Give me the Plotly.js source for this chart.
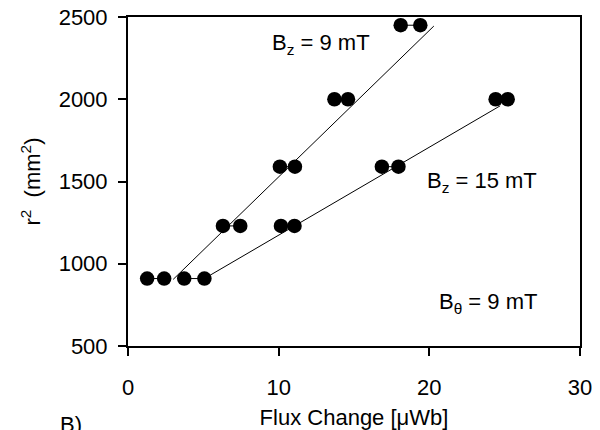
<!DOCTYPE html>
<html><head><meta charset="utf-8">
<script src="https://cdn.plot.ly/plotly-3.0.1.min.js"></script>
<style>html,body{margin:0;padding:0;background:#fff}</style>
</head><body><div id="chart" style="width:600px;height:430px"></div>
<script>
// Bz = 9 mT series
const bz9X = [1.27, 2.4, 6.3, 7.45, 10.08, 11.08, 13.7, 14.6, 18.1, 19.4];
const bz9Y = [910, 910, 1230, 1230, 1590, 1590, 2000, 2000, 2450, 2450];
// Bz = 15 mT series
const bz15X = [3.73, 5.07, 10.15, 11.05, 16.85, 17.95, 24.4, 25.2];
const bz15Y = [910, 910, 1230, 1230, 1590, 1590, 2000, 2000];
// fitted lines (endpoints)
const fit9X = [3.0, 20.3];
const fit9Y = [905, 2445];
const fit15X = [5.07, 24.7];
const fit15Y = [910, 1960];
const xTicks = [0, 10, 20, 30];
const yTicks = [500, 1000, 1500, 2000, 2500];

// horizontal connectors between the points of each pair
function pairs(xs, ys) {
  const px = [], py = [];
  for (let i = 0; i + 1 < xs.length; i += 2) {
    px.push(xs[i], xs[i + 1], null);
    py.push(ys[i], ys[i + 1], null);
  }
  return [px, py];
}
const p9 = pairs(bz9X, bz9Y), p15 = pairs(bz15X, bz15Y);
const FAM = 'Liberation Sans, Arial, Helvetica, sans-serif';
function f(size) { return {family: FAM, size: size, color: '#000000'}; }

const traces = [
  {x: p9[0], y: p9[1], mode: 'lines', line: {color: '#000', width: 1}},
  {x: p15[0], y: p15[1], mode: 'lines', line: {color: '#000', width: 1}},
  {x: fit9X, y: fit9Y, mode: 'lines', line: {color: '#000', width: 1}},
  {x: fit15X, y: fit15Y, mode: 'lines', line: {color: '#000', width: 1}},
  {x: bz9X, y: bz9Y, mode: 'markers', marker: {color: '#000', size: 14.5}},
  {x: bz15X, y: bz15Y, mode: 'markers', marker: {color: '#000', size: 14.5}}
];

// plot area in pixels: x 128..580, y 17..346
function ann(text, px, py, size, xanchor, yanchor) {
  return {text: text, xref: 'paper', yref: 'paper',
          x: (px - 128) / 452, y: (346 - py) / 329,
          xanchor: xanchor || 'center', yanchor: yanchor || 'middle',
          showarrow: false, font: f(size || 22)};
}

const layout = {
  width: 600, height: 430,
  margin: {l: 128, r: 20, t: 17, b: 84},
  paper_bgcolor: '#fff', plot_bgcolor: '#fff',
  showlegend: false,
  font: f(22),
  xaxis: {
    range: [0, 30], tickvals: xTicks, ticktext: xTicks.map(String),
    showgrid: false, zeroline: false,
    showline: true, linecolor: '#000', linewidth: 2, mirror: true,
    ticks: 'outside', ticklen: 8, tickwidth: 2, tickcolor: '#000',
    ticklabelstandoff: 13,
    tickfont: f(22),
    title: {text: 'Flux Change [μWb]', font: f(22), standoff: 16}
  },
  yaxis: {
    range: [500, 2500], tickvals: yTicks, ticktext: yTicks.map(String),
    showgrid: false, zeroline: false,
    showline: true, linecolor: '#000', linewidth: 2, mirror: true,
    ticks: 'outside', ticklen: 8, tickwidth: 2, tickcolor: '#000',
    ticklabelstandoff: 6,
    tickfont: f(22),
    title: {text: 'r<sup>2</sup>  (mm<sup>2</sup>)', font: f(22), standoff: 12}
  },
  annotations: [
    ann('B<sub>z</sub> = 9 mT', 321, 44),
    ann('B<sub>z</sub> = 15 mT', 482, 182),
    ann('B<sub>θ</sub> = 9 mT', 488, 303),
    ann('B)', 71, 410, 22, 'center', 'top')
  ]
};

Plotly.newPlot('chart', traces, layout, {displayModeBar: false, staticPlot: true});
</script></body></html>
